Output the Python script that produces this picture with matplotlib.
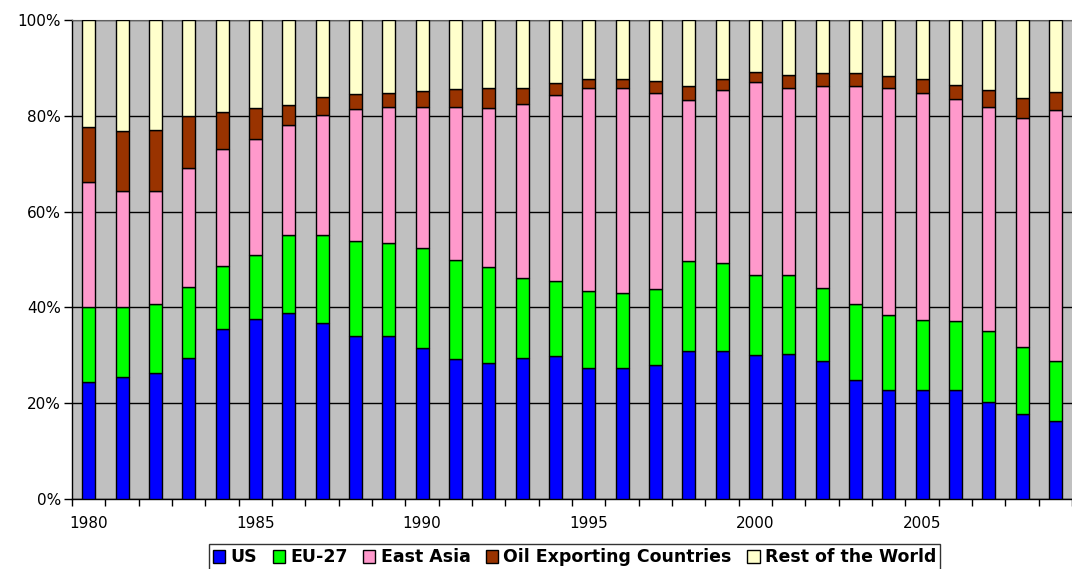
import matplotlib.pyplot as plt
import numpy as np

# shares of world total (%)
years = list(range(1980, 2010))
us = [24.4, 25.5, 26.3, 29.4, 35.5, 37.5, 38.8, 36.7, 34.0, 34.1,
      31.5, 29.2, 28.4, 29.4, 29.9, 27.4, 27.4, 28.0, 30.8, 31.0,
      30.0, 30.3, 28.8, 24.8, 22.7, 22.7, 22.7, 20.3, 17.7, 16.3]
eu27 = [15.7, 14.6, 14.4, 14.9, 13.2, 13.4, 16.3, 18.4, 19.9, 19.4,
        20.8, 20.6, 20.0, 16.8, 15.6, 16.1, 15.6, 15.9, 18.9, 18.2,
        16.8, 16.5, 15.3, 15.9, 15.7, 14.7, 14.5, 14.8, 14.0, 12.5]
east_asia = [26.0, 24.3, 23.5, 24.8, 24.3, 24.3, 22.9, 25.1, 27.5, 28.3,
             29.6, 32.1, 33.2, 36.3, 38.9, 42.3, 42.7, 40.9, 33.5, 36.2,
             40.3, 39.1, 42.1, 45.5, 47.3, 47.4, 46.3, 46.7, 47.8, 52.4]
oil = [11.6, 12.5, 12.9, 10.9, 7.8, 6.4, 4.3, 3.7, 3.2, 2.9,
       3.2, 3.6, 4.1, 3.2, 2.4, 1.9, 2.0, 2.4, 3.0, 2.2,
       2.0, 2.6, 2.7, 2.7, 2.6, 2.8, 2.9, 3.6, 4.2, 3.8]
rest = [22.3, 23.1, 22.9, 20.0, 19.2, 18.4, 17.7, 16.1, 15.4, 15.3,
        14.9, 14.5, 14.3, 14.3, 13.2, 12.3, 12.3, 12.8, 13.8, 12.4,
        10.9, 11.5, 11.1, 11.1, 11.7, 12.4, 13.6, 14.6, 16.3, 15.0]

series = [us, eu27, east_asia, oil, rest]
names = ['US', 'EU-27', 'East Asia', 'Oil Exporting Countries', 'Rest of the World']
colors = ['#0000FF', '#00FF00', '#FF99CC', '#993300', '#FFFFCC']

plt.rcParams['font.family'] = ['DejaVu Sans']

fig = plt.figure(figsize=(10.72, 5.69), dpi=100)
ax = fig.add_axes([72 / 1072, 70 / 569, 1000 / 1072, 479 / 569])
ax.set_facecolor('#C0C0C0')

pos = np.arange(len(years))
bottom = np.zeros(len(years))
for vals, name, col in zip(series, names, colors):
    vals = np.array(vals)
    ax.bar(pos, vals, 0.39, bottom=bottom, color=col, edgecolor='black',
           linewidth=1, label=name, zorder=3)
    bottom += vals

ax.set_xlim(-0.5, 29.2)
ax.set_ylim(0, 100)

# y axis
ax.set_yticks(range(0, 101, 20))
ax.set_yticklabels([f'{v}%' for v in range(0, 101, 20)], fontsize=11)
ax.yaxis.grid(True, color='black', linewidth=1, zorder=1)
ax.tick_params(axis='y', direction='out', length=6, width=1, pad=2)

# x axis: tick marks between categories, labels every 5 years
ax.set_xticks(np.arange(-0.5, 30, 1))
ax.set_xticklabels([])
ax.tick_params(axis='x', which='major', direction='out', length=5, width=1)
ax.set_xticks(pos[::5], minor=True)
ax.set_xticklabels([str(y) for y in years[::5]], minor=True, fontsize=11)
ax.tick_params(axis='x', which='minor', length=0, pad=12)

ax.spines['right'].set_visible(False)
ax.spines['top'].set_color('#606060')
for side in ['left', 'bottom']:
    ax.spines[side].set_linewidth(1)

leg = fig.legend(loc='upper center', bbox_to_anchor=(0.536, 1 - 544 / 569), ncol=5,
                 prop={'weight': 'bold', 'size': 12.5}, frameon=True,
                 fancybox=False, edgecolor='black', handlelength=0.7,
                 handleheight=0.8, handletextpad=0.3, columnspacing=0.9,
                 borderpad=0.25, borderaxespad=0)
leg.get_frame().set_linewidth(1)

fig.savefig('out.png', dpi=100)
